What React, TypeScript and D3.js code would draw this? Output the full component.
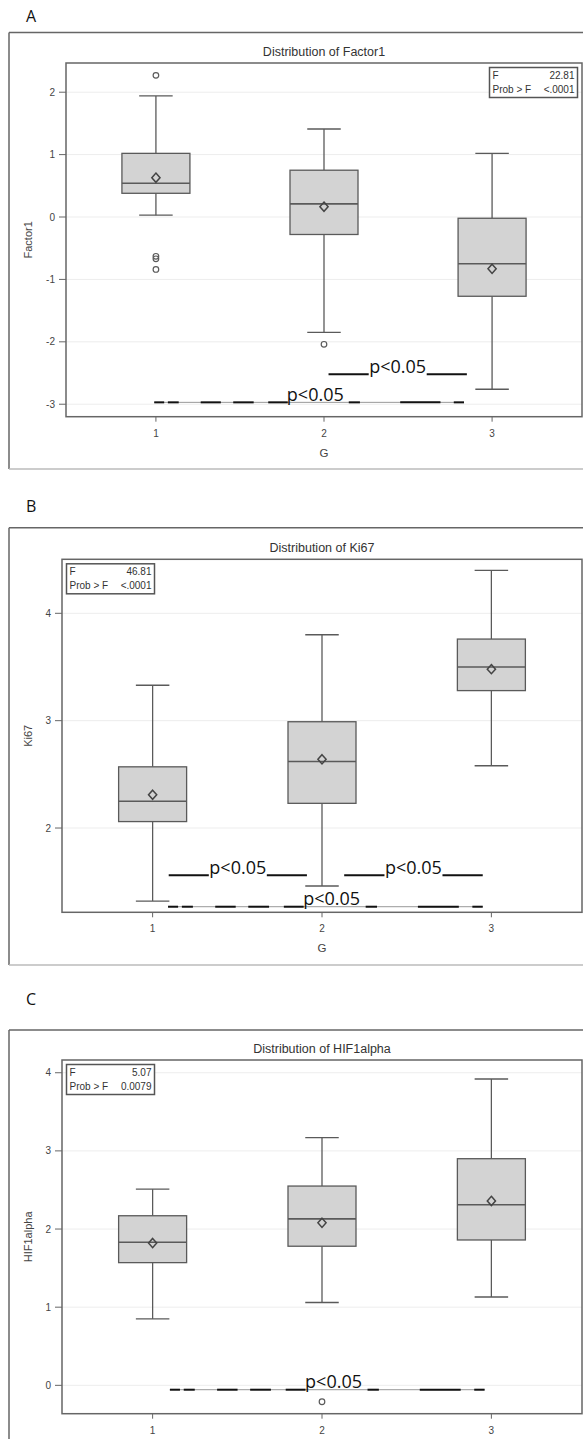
import React from "react";
import * as d3 from "d3";

const groups = [1, 2, 3];

// A: Factor1
const factor1Lo = [0.03, -1.85, -2.76];
const factor1Q1 = [0.38, -0.28, -1.27];
const factor1Median = [0.54, 0.21, -0.75];
const factor1Q3 = [1.02, 0.75, -0.02];
const factor1Hi = [1.94, 1.41, 1.02];
const factor1Mean = [0.63, 0.165, -0.83];
const factor1Outliers = [[2.27, -0.63, -0.67, -0.84], [-2.04], []];
const factor1Ticks = [-3, -2, -1, 0, 1, 2];
const factor1Stats = ["22.81", "<.0001"];
const factor1Sig = [
  { from: 2.027, to: 2.85, at: -2.52, dashed: false },
  { from: 0.99, to: 2.833, at: -2.97, dashed: true },
];

// B: Ki67
const ki67Lo = [1.32, 1.46, 2.58];
const ki67Q1 = [2.06, 2.23, 3.28];
const ki67Median = [2.25, 2.62, 3.5];
const ki67Q3 = [2.57, 2.99, 3.76];
const ki67Hi = [3.33, 3.8, 4.4];
const ki67Mean = [2.31, 2.64, 3.48];
const ki67Outliers = [[], [], []];
const ki67Ticks = [2, 3, 4];
const ki67Stats = ["46.81", "<.0001"];
const ki67Sig = [
  { from: 1.095, to: 1.911, at: 1.56, dashed: false },
  { from: 2.131, to: 2.949, at: 1.56, dashed: false },
  { from: 1.091, to: 2.949, at: 1.267, dashed: true },
];

// C: HIF1alpha
const hifLo = [0.85, 1.06, 1.13];
const hifQ1 = [1.57, 1.78, 1.86];
const hifMedian = [1.83, 2.13, 2.31];
const hifQ3 = [2.17, 2.55, 2.9];
const hifHi = [2.51, 3.17, 3.92];
const hifMean = [1.82, 2.08, 2.36];
const hifOutliers = [[], [-0.21], []];
const hifTicks = [0, 1, 2, 3, 4];
const hifStats = ["5.07", "0.0079"];
const hifSig = [{ from: 1.102, to: 2.96, at: -0.056, dashed: true }];

// pieces of the hand-drawn dashed underline, as fractions of its span
const DASH_PIECES = [
  [0, 0.032], [0.044, 0.079], [0.15, 0.215], [0.255, 0.321],
  [0.368, 0.431], [0.628, 0.664], [0.794, 0.924], [0.967, 1],
];

const AXIS_FONT = "'Liberation Sans', Arial, sans-serif";
const NOTE_FONT = "'Open Sans', sans-serif";
const PLOT_RIGHT = 582;

function BoxPanel(props: any) {
  const {
    letter, letterY, title, yLabel, xLabel, frameTop, frameBottom, plotTop, plotBottom,
    plotLeft, yDomain, ticks, lo, q1, median, q3, hi, mean, outliers, stats, sigs, insetLeft,
  } = props;

  const x = d3.scaleLinear().domain([0.465, 3.535]).range([plotLeft, PLOT_RIGHT]);
  const y = d3.scaleLinear().domain(yDomain).range([plotBottom, plotTop]);
  const midX = (plotLeft + PLOT_RIGHT) / 2;
  const midY = (plotTop + plotBottom) / 2;
  const boxHalf = 34;
  const capHalf = 16.75;
  const stroke = "#5a5a5a";

  const insetW = 88;
  const insetH = 30;
  const insetX = insetLeft ? plotLeft + 4.5 : PLOT_RIGHT - 4.5 - insetW;
  const insetY = plotTop + 4.5;

  const diamond = (cx: number, cy: number) =>
    d3.line()([[cx, cy - 4.6], [cx + 4.1, cy], [cx, cy + 4.6], [cx - 4.1, cy]]) + "Z";

  return (
    <g>
      <text x={26} y={letterY} fontFamily={NOTE_FONT} fontSize={16} fill="#111">{letter}</text>
      {/* outer frame */}
      <line x1={9} x2={583} y1={frameTop} y2={frameTop} stroke="#666" strokeWidth={1.5} />
      <line x1={9} x2={9} y1={frameTop} y2={frameBottom} stroke="#666" strokeWidth={1.5} />
      <line x1={9} x2={583} y1={frameBottom} y2={frameBottom} stroke="#bbb" strokeWidth={1.5} />

      <text x={midX} y={plotTop - 7} textAnchor="middle" fontFamily={AXIS_FONT} fontSize={12.5} fill="#333">{title}</text>

      {/* grid */}
      {ticks.map((t: number) => (
        <line key={"g" + t} x1={plotLeft} x2={PLOT_RIGHT} y1={y(t)} y2={y(t)} stroke="#ededed" strokeWidth={1} />
      ))}

      {/* y axis */}
      {ticks.map((t: number) => (
        <g key={"t" + t}>
          <line x1={plotLeft - 7} x2={plotLeft} y1={y(t)} y2={y(t)} stroke="#666" />
          <text x={plotLeft - 11} y={y(t)} dy="0.35em" textAnchor="end" fontFamily={AXIS_FONT} fontSize={10} fill="#444">{t}</text>
        </g>
      ))}
      <text transform={`translate(31.5, ${midY}) rotate(-90)`} textAnchor="middle" fontFamily={AXIS_FONT} fontSize={11} fill="#444">{yLabel}</text>

      {/* x axis */}
      {groups.map((g) => (
        <g key={"x" + g}>
          <line x1={x(g)} x2={x(g)} y1={plotBottom} y2={plotBottom + 5} stroke="#666" />
          <text x={x(g)} y={plotBottom + 20} textAnchor="middle" fontFamily={AXIS_FONT} fontSize={10} fill="#444">{g}</text>
        </g>
      ))}
      {xLabel && (
        <text x={midX} y={plotBottom + 40} textAnchor="middle" fontFamily={AXIS_FONT} fontSize={11.5} fill="#444">{xLabel}</text>
      )}

      {/* boxes */}
      {groups.map((g, i) => {
        const cx = x(g);
        return (
          <g key={"b" + g} stroke={stroke} strokeWidth={1.3}>
            <line x1={cx} x2={cx} y1={y(q3[i])} y2={y(hi[i])} />
            <line x1={cx} x2={cx} y1={y(q1[i])} y2={y(lo[i])} />
            <line x1={cx - capHalf} x2={cx + capHalf} y1={y(hi[i])} y2={y(hi[i])} />
            <line x1={cx - capHalf} x2={cx + capHalf} y1={y(lo[i])} y2={y(lo[i])} />
            <rect x={cx - boxHalf} y={y(q3[i])} width={boxHalf * 2} height={y(q1[i]) - y(q3[i])} fill="#d3d3d3" />
            <line x1={cx - boxHalf} x2={cx + boxHalf} y1={y(median[i])} y2={y(median[i])} strokeWidth={1.6} />
            <path d={diamond(cx, y(mean[i]))} fill="none" strokeWidth={1.5} stroke="#444" />
            {outliers[i].map((o: number, k: number) => (
              <circle key={k} cx={cx} cy={y(o)} r={2.8} fill="none" strokeWidth={1.2} />
            ))}
          </g>
        );
      })}

      {/* plot frame */}
      <rect x={plotLeft} y={plotTop} width={PLOT_RIGHT - plotLeft} height={plotBottom - plotTop} fill="none" stroke="#666" strokeWidth={1.5} />

      {/* inset statistics */}
      <rect x={insetX} y={insetY} width={insetW} height={insetH} fill="white" stroke="#555" strokeWidth={1.5} />
      <g fontFamily={AXIS_FONT} fontSize={10} fill="#333">
        <text x={insetX + 3} y={insetY + 11}>F</text>
        <text x={insetX + insetW - 3} y={insetY + 11} textAnchor="end">{stats[0]}</text>
        <text x={insetX + 3} y={insetY + 25}>Prob &gt; F</text>
        <text x={insetX + insetW - 3} y={insetY + 25} textAnchor="end">{stats[1]}</text>
      </g>

      {/* significance notes */}
      {sigs.map((s: any, k: number) => {
        const x1 = x(s.from);
        const x2 = x(s.to);
        const yy = y(s.at);
        const span = x2 - x1;
        if (!s.dashed) {
          const cx = (x1 + x2) / 2;
          return (
            <g key={"s" + k}>
              <line x1={x1} x2={cx - 29} y1={yy} y2={yy} stroke="#111" strokeWidth={2} />
              <line x1={cx + 29} x2={x2} y1={yy} y2={yy} stroke="#111" strokeWidth={2} />
              <text x={cx} y={yy - 1.5} textAnchor="middle" fontFamily={NOTE_FONT} fontSize={18} fill="#111">p&lt;0.05</text>
            </g>
          );
        }
        const cx = x1 + 0.52 * span;
        return (
          <g key={"s" + k}>
            <line x1={x1} x2={x2} y1={yy} y2={yy} stroke="#999" strokeWidth={1} />
            {DASH_PIECES.map(([a, b], j) => (
              <line key={j} x1={x1 + a * span} x2={x1 + b * span} y1={yy} y2={yy} stroke="#111" strokeWidth={2} />
            ))}
            <text x={cx} y={yy - 1.5} textAnchor="middle" fontFamily={NOTE_FONT} fontSize={18} fill="#111">p&lt;0.05</text>
          </g>
        );
      })}
    </g>
  );
}

export default function App() {
  return (
    <div style={{ position: "absolute", left: 0, top: 0 }}>
      <svg width={583} height={1439} style={{ display: "block", background: "white" }}>
        <BoxPanel
          letter="A" letterY={21.5} title="Distribution of Factor1" yLabel="Factor1" xLabel="G"
          frameTop={32.5} frameBottom={469} plotTop={63} plotBottom={416.7} plotLeft={66}
          yDomain={[-3.2, 2.468]} ticks={factor1Ticks}
          lo={factor1Lo} q1={factor1Q1} median={factor1Median} q3={factor1Q3} hi={factor1Hi}
          mean={factor1Mean} outliers={factor1Outliers} stats={factor1Stats} sigs={factor1Sig}
          insetLeft={false}
        />
        <BoxPanel
          letter="B" letterY={512} title="Distribution of Ki67" yLabel="Ki67" xLabel="G"
          frameTop={527.7} frameBottom={965} plotTop={559.3} plotBottom={912.3} plotLeft={62}
          yDomain={[1.215, 4.503]} ticks={ki67Ticks}
          lo={ki67Lo} q1={ki67Q1} median={ki67Median} q3={ki67Q3} hi={ki67Hi}
          mean={ki67Mean} outliers={ki67Outliers} stats={ki67Stats} sigs={ki67Sig}
          insetLeft={true}
        />
        <BoxPanel
          letter="C" letterY={1005} title="Distribution of HIF1alpha" yLabel="HIF1alpha"
          frameTop={1030} frameBottom={1480} plotTop={1060} plotBottom={1413.7} plotLeft={62}
          yDomain={[-0.363, 4.163]} ticks={hifTicks}
          lo={hifLo} q1={hifQ1} median={hifMedian} q3={hifQ3} hi={hifHi}
          mean={hifMean} outliers={hifOutliers} stats={hifStats} sigs={hifSig}
          insetLeft={true}
        />
      </svg>
    </div>
  );
}
